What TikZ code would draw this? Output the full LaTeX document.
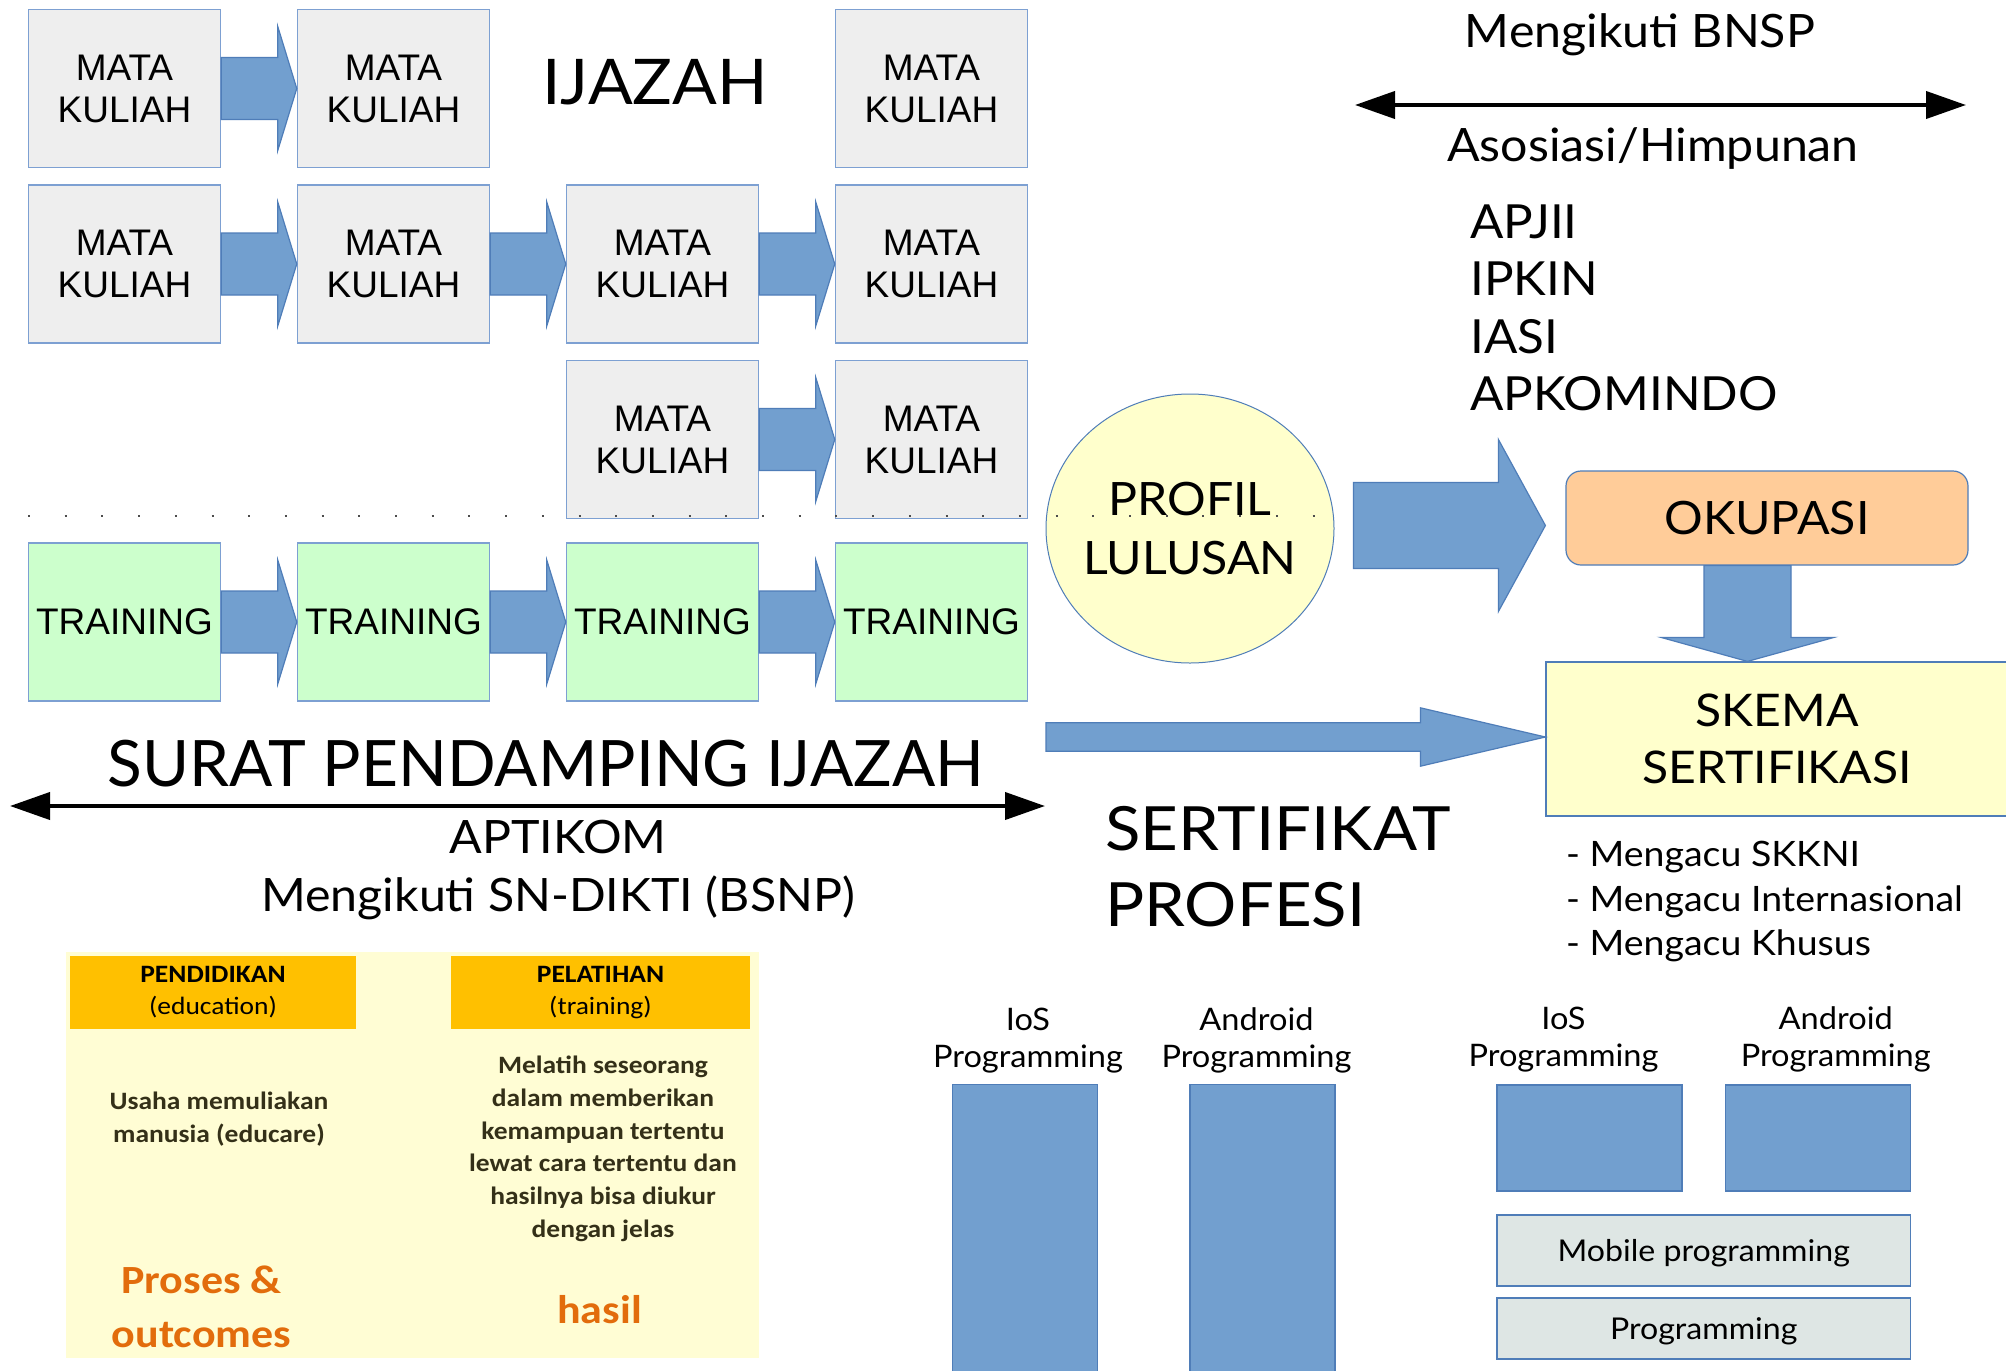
\documentclass[tikz,border=0pt]{standalone}
\usepackage{fontspec}
\setmainfont{Lato}[FakeStretch=1.05]
\newfontfamily\widelato{Lato}[FakeStretch=1.07]
\newfontfamily\plainlato{Lato}
\newfontfamily\boxfont{Liberation Sans}
\newfontfamily\slidefont[FakeStretch=1.1]{Carlito}
\usepackage{tikz}
\usetikzlibrary{arrows.meta,positioning,shapes.geometric,calc}
\definecolor{KBlue}{RGB}{114,159,207}
\definecolor{KEdge}{RGB}{79,125,184}
\definecolor{KLine}{RGB}{125,160,210}
\definecolor{KGray}{RGB}{238,238,238}
\definecolor{KGreen}{RGB}{204,255,204}
\definecolor{KCream}{RGB}{255,255,204}
\definecolor{KPeach}{RGB}{255,204,153}
\definecolor{KMist}{RGB}{222,230,228}
\definecolor{KPanel}{RGB}{255,253,212}
\definecolor{KAmber}{RGB}{255,192,0}
\definecolor{KInk}{RGB}{52,48,24}
\definecolor{KRust}{RGB}{226,108,12}

\begin{document}
\begin{tikzpicture}[
    x=1pt, y=-1pt,
    node distance=75.5pt,
    arwshaft/.store in=\arwshaft, arwhead/.store in=\arwhead, arwlen/.store in=\arwlen,
    arwshaft=31pt, arwhead=62pt, arwlen=19pt,
    mkbox/.style={
      draw=KLine,
      line width=1.5pt,
      fill=KGray,
      minimum width=192pt,
      minimum height=158pt,
      inner sep=0pt,
      align=center,
      font=\boxfont\fontsize{37}{42}\selectfont
    },
    trbox/.style={mkbox, fill=KGreen},
    barrow/.style={
      draw=KEdge, line width=1.2pt, fill=KBlue,
      to path={let \p1=(\tikztostart), \p2=(\tikztotarget),
        \p3=($(\p2)!\arwlen!(\p1)$) in
        ($(\p1)!\arwshaft!90:(\p2)$) -- ($(\p3)!\arwshaft!90:(\p2)$)
        -- ($(\p3)!\arwhead!90:(\p2)$) -- (\p2)
        -- ($(\p3)!\arwhead!-90:(\p2)$) -- ($(\p3)!\arwshaft!-90:(\p2)$)
        -- ($(\p1)!\arwshaft!-90:(\p2)$) -- cycle}
    },
    dblarrow/.style={{Triangle[length=40pt,width=27pt]}-{Triangle[length=40pt,width=27pt]}, line width=4pt},
    txt/.style={inner sep=0pt},
    midfont/.style={txt, font=\fontsize{46}{56}\selectfont},
    bar/.style={draw=KEdge, line width=1.2pt, fill=KBlue, inner sep=0pt},
    lbl/.style={txt, align=center, font=\fontsize{31}{37}\selectfont},
    mistbox/.style={draw=KEdge, line width=1.2pt, fill=KMist, inner sep=0pt,
      minimum width=413.5pt, text depth=0pt, font=\widelato\fontsize{30}{30}\selectfont},
    hdr/.style={fill=KAmber, minimum height=73pt, inner sep=0pt, align=center,
      font=\slidefont\fontsize{25}{32}\selectfont},
    body/.style={txt, anchor=north, align=center, text=KInk,
      font=\slidefont\bfseries\fontsize{25}{32.7}\selectfont},
    rust/.style={txt, anchor=base, text=KRust, font=\slidefont\bfseries\fontsize{40}{40}\selectfont}
  ]
    \path[use as bounding box, fill=white] (0,0) rectangle (2006,1371);

    % mata kuliah
    \node[mkbox] (m11) at (124.5,88.5) {MATA\\KULIAH};
    \node[mkbox, right=of m11] (m12) {MATA\\KULIAH};
    \node[mkbox] (m14) at (931.5,88.5) {MATA\\KULIAH};
    \node[mkbox, below=16pt of m11] (m21) {MATA\\KULIAH};
    \node[mkbox, right=of m21] (m22) {MATA\\KULIAH};
    \node[mkbox, right=of m22] (m23) {MATA\\KULIAH};
    \node[mkbox, right=of m23] (m24) {MATA\\KULIAH};
    \node[mkbox, below=16pt of m23] (m33) {MATA\\KULIAH};
    \node[mkbox, right=of m33] (m34) {MATA\\KULIAH};

    \draw[barrow] (m11.east) to (m12.west);
    \draw[barrow] (m21.east) to (m22.west);
    \draw[barrow] (m22.east) to (m23.west);
    \draw[barrow] (m23.east) to (m24.west);
    \draw[barrow] (m33.east) to (m34.west);

    \node[txt, anchor=base, font=\fontsize{63}{63}\selectfont] (ijazah) at (655,104) {IJAZAH};

    % training
    \node[trbox] (t1) at (124.5,622) {TRAINING};
    \node[trbox, right=of t1] (t2) {TRAINING};
    \node[trbox, right=of t2] (t3) {TRAINING};
    \node[trbox, right=of t3] (t4) {TRAINING};

    \draw[barrow] (t1.east) to (t2.west);
    \draw[barrow] (t2.east) to (t3.west);
    \draw[barrow] (t3.east) to (t4.west);

    % surat pendamping
    \node[txt, anchor=base, font=\plainlato\fontsize{64}{64}\selectfont] (spi) at (546,786) {SURAT PENDAMPING IJAZAH};
    \coordinate (spl) at (10,806);
    \coordinate (spr) at (1045,806);
    \draw[dblarrow] (spl) -- (spr);
    \node[midfont, anchor=base] (aptikom) at (558,853) {APTIKOM};
    \node[midfont, anchor=base] (sndikti) at (558,911) {Mengikuti SN-DIKTI (BSNP)};

    % asosiasi
    \node[midfont, anchor=base] (bnsp) at (1640,47) {Mengikuti BNSP};
    \coordinate (asl) at (1355,105);
    \coordinate (asr) at (1966,105);
    \draw[dblarrow] (asl) -- (asr);
    \node[midfont, anchor=base] (asosiasi) at (1653,161) {Asosiasi/Himpunan};
    \node[txt, anchor=north west, align=left, font=\fontsize{47}{57.5}\selectfont] (anggota) at (1470,204.5) {APJII\\IPKIN\\IASI\\APKOMINDO};

    % profil, okupasi, skema
    \node[ellipse, draw=KEdge, line width=1pt, fill=KCream, minimum width=288pt, minimum height=269pt,
      inner sep=-20pt, align=center, font=\fontsize{46}{59}\selectfont] (profil) at (1190,528.5) {PROFIL\\LULUSAN};
    \node[draw=KEdge, line width=1.2pt, fill=KPeach, rounded corners=15pt, minimum width=402pt,
      minimum height=94pt, inner sep=0pt, font=\fontsize{46}{46}\selectfont] (okupasi) at (1767,518) {OKUPASI};
    \node[draw=KEdge, line width=1.2pt, fill=KCream, minimum width=462pt, minimum height=154pt,
      inner sep=0pt, align=center, font=\widelato\fontsize{45}{57}\selectfont] (skema) at (1777,739) {SKEMA\\SERTIFIKASI};

    \draw[barrow, arwshaft=43pt, arwhead=86pt, arwlen=47pt] ($(profil.east)+(19,-3)$) to ($(okupasi.west)+(-20,7.5)$);
    \draw[barrow, arwshaft=43.5pt, arwhead=86.5pt, arwlen=24pt] ($(okupasi.south)+(-19.5,0)$) to ($(skema.north)+(-29.5,0)$);
    \coordinate (sertin) at (1046,737);
    \draw[barrow, arwshaft=14.2pt, arwhead=29.2pt, arwlen=125pt] (sertin) to (sertin -| skema.west);

    \node[txt, anchor=north west, align=left, font=\widelato\fontsize{61}{76}\selectfont] (sertprof) at (1105,806) {SERTIFIKAT\\PROFESI};
    \node[txt, anchor=north west, align=left, font=\widelato\fontsize{35}{44.5}\selectfont] (acuan) at (1566,841)
      {- Mengacu SKKNI\\- Mengacu Internasional\\- Mengacu Khusus};

    % programming
    \node[bar, anchor=north, minimum width=145pt, minimum height=300pt] (iosbar) at (1025,1084) {};
    \node[bar, anchor=north, minimum width=145pt, minimum height=300pt] (andbar) at (1262.5,1084) {};
    \node[lbl, above=11pt of iosbar, xshift=3pt] (ioslbl) {IoS\\Programming};
    \node[lbl, above=11pt of andbar, xshift=-6pt] (andlbl) {Android\\Programming};

    \node[bar, minimum width=185pt, minimum height=106pt] (iosbox) at (1589.5,1138) {};
    \node[bar, minimum width=185pt, minimum height=106pt] (andbox) at (1817.75,1138) {};
    \node[lbl, above=12pt of iosbox, xshift=-26pt] (ioslbl2) {IoS\\Programming};
    \node[lbl, above=12pt of andbox, xshift=18pt] (andlbl2) {Android\\Programming};
    \node[mistbox, minimum height=71pt] (mobile) at (1703.75,1250.5) {Mobile programming};
    \node[mistbox, minimum height=61pt] (prog) at (1703.75,1328.5) {Programming};

    % pendidikan vs pelatihan
    \node[fill=KPanel, minimum width=693pt, minimum height=406pt, inner sep=0pt] (panel) at (412.5,1155) {};
    \node[hdr, minimum width=286pt] (pend) at (213,992.5) {\textbf{PENDIDIKAN}\\(education)};
    \node[hdr, minimum width=299pt] (pel) at (600.5,992.5) {\textbf{PELATIHAN}\\(training)};
    \node[body] (usaha) at (219,1092) {Usaha memuliakan\\manusia (educare)};
    \node[body] (melatih) at (603,1056) {Melatih seseorang\\dalam memberikan\\kemampuan tertentu\\lewat cara tertentu dan\\hasilnya bisa diukur\\dengan jelas};
    \node[rust] (proses) at (201.5,1293) {Proses \&};
    \node[rust] (outcomes) at (201.5,1347) {outcomes};
    \node[rust] (hasil) at (599.5,1323) {hasil};

    % garis titik
    \coordinate (dotl) at (28,515.7);
    \coordinate (dotr) at (1347,515.7);
    \draw[black!70, line width=2pt, dash pattern=on 2pt off 34.7pt] (dotl) -- (dotr);
  \end{tikzpicture}
\end{document}
